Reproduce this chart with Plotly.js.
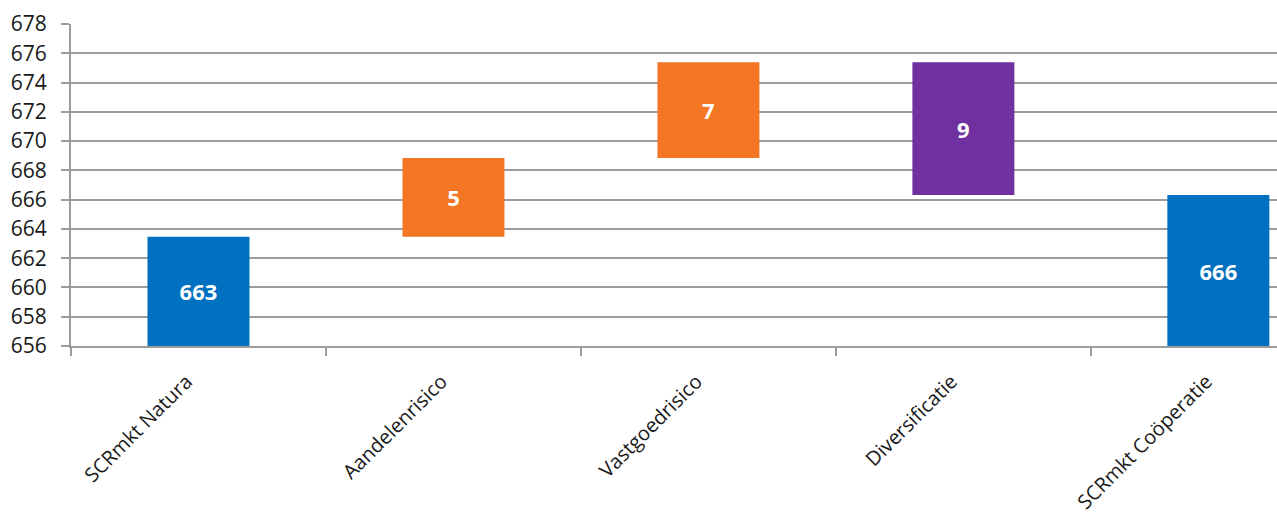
<!DOCTYPE html>
<html>
<head>
<meta charset="utf-8">
<script src="https://cdn.plot.ly/plotly-3.0.1.min.js"></script>
<style>html,body{margin:0;padding:0;background:#fff;}#chart{width:1277px;height:515px;}</style>
</head>
<body>
<div id="chart"></div>
<script>
// Data
const categories = ["SCRmkt Natura", "Aandelenrisico", "Vastgoedrisico", "Diversificatie", "SCRmkt Coöperatie"];
const barStart = [656, 663.47, 668.85, 666.31, 656];
const barEnd   = [663.47, 668.85, 675.38, 675.38, 666.31];
const labels   = ["663", "5", "7", "9", "666"];
const colors   = ["#0070C0", "#F37624", "#F37624", "#7030A0", "#0070C0"];
const yTicks   = [656, 658, 660, 662, 664, 666, 668, 670, 672, 674, 676, 678];

const heights = barEnd.map((e, i) => e - barStart[i]);
const gridColor = "#9c9c9c";

const trace = {
  type: "bar",
  x: categories,
  y: heights,
  base: barStart,
  width: 0.4,
  marker: {color: colors, line: {width: 0}},
  text: labels,
  textposition: "inside",
  insidetextanchor: "middle",
  textangle: 0,
  textfont: {family: "Open Sans", size: 22, color: "#ffffff", weight: 700},
  hoverinfo: "skip",
  cliponaxis: false
};

const layout = {
  width: 1277,
  height: 515,
  margin: {l: 71, r: 0, t: 24, b: 169, pad: 0},
  paper_bgcolor: "#ffffff",
  plot_bgcolor: "#ffffff",
  showlegend: false,
  font: {family: "Open Sans", color: "#1a1a1a"},
  xaxis: {
    type: "category",
    range: [-0.5, 4.23],
    showgrid: false,
    showline: true,
    linecolor: gridColor,
    linewidth: 2,
    ticks: "outside",
    tickson: "boundaries",
    ticklen: 8,
    tickwidth: 2,
    tickcolor: gridColor,
    tickangle: -45,
    ticklabelstandoff: 14,
    ticklabelshift: -12,
    tickfont: {family: "Open Sans", size: 20, color: "#1a1a1a"},
    fixedrange: true
  },
  yaxis: {
    range: [656, 678],
    tickvals: yTicks,
    ticktext: yTicks.map(String),
    showgrid: true,
    gridcolor: gridColor,
    gridwidth: 2,
    zeroline: false,
    showline: true,
    linecolor: gridColor,
    linewidth: 2,
    ticks: "outside",
    ticklen: 8,
    tickwidth: 2,
    tickcolor: gridColor,
    ticklabelstandoff: 10,
    tickfont: {family: "Open Sans", size: 21, color: "#1a1a1a"},
    fixedrange: true
  }
};

Plotly.newPlot("chart", [trace], layout, {displayModeBar: false, staticPlot: true});
</script>
</body>
</html>
